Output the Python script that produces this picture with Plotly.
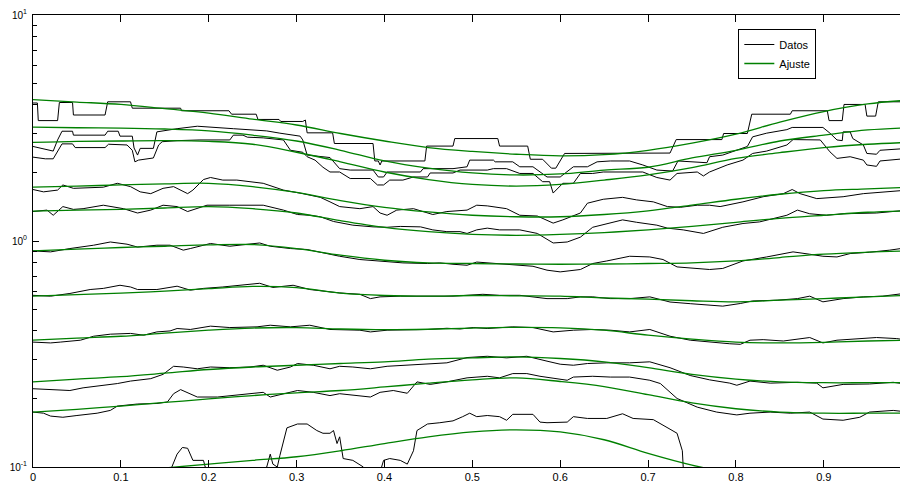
import plotly.graph_objects as go

# ---------------- data (x, value) ----------------
d1 = [(0.000,4.08),(0.005,4.08),(0.006,3.41),(0.028,3.41),(0.030,4.10),(0.045,4.10),(0.046,3.61),(0.082,3.61),
      (0.085,4.13),(0.111,4.13),(0.113,3.87),(0.168,3.87),(0.169,3.77),(0.223,3.77),(0.226,3.64),(0.254,3.64),
      (0.256,3.45),(0.280,3.45),(0.282,3.38),(0.307,3.38),(0.310,3.43),(0.312,3.01),(0.341,3.01),(0.343,2.70),
      (0.387,2.70),(0.389,2.26),(0.393,2.26),(0.395,2.17),(0.397,2.26),(0.446,2.26),(0.448,2.63),(0.478,2.63),
      (0.480,2.84),(0.529,2.84),(0.531,2.63),(0.563,2.63),(0.566,2.30),(0.580,2.30),(0.590,2.10),(0.595,2.10),
      (0.605,2.44),(0.725,2.45),(0.732,2.81),(0.784,2.81),(0.786,2.99),(0.813,2.99),(0.818,3.64),(0.862,3.64),
      (0.864,3.77),(0.904,3.77),(0.906,3.41),(0.921,3.41),(0.923,4.02),(0.947,4.02),(0.949,3.57),(0.959,3.57),
      (0.962,4.13),(0.996,4.13)]

d2 = [(0.000,2.62),(0.008,2.58),(0.023,2.50),(0.028,2.80),(0.033,3.06),(0.045,3.06),(0.046,2.94),(0.082,2.94),
      (0.085,3.06),(0.097,3.06),(0.099,2.91),(0.113,2.91),(0.115,2.58),(0.119,2.40),(0.122,2.57),(0.137,2.57),
      (0.141,3.04),(0.164,3.14),(0.187,3.22),(0.228,3.14),(0.266,3.07),(0.281,3.00),(0.304,2.91),(0.307,2.80),
      (0.312,2.40),(0.338,2.34),(0.349,2.09),(0.361,2.06),(0.387,2.06),(0.393,1.92),(0.399,1.92),(0.403,2.02),
      (0.441,2.02),(0.444,2.09),(0.478,2.09),(0.494,2.13),(0.497,2.28),(0.524,2.28),(0.526,2.24),(0.546,2.24),
      (0.554,2.13),(0.569,2.13),(0.585,1.92),(0.600,1.92),(0.603,1.96),(0.615,2.13),(0.631,2.13),(0.642,2.24),
      (0.657,2.26),(0.679,2.26),(0.694,2.17),(0.710,2.06),(0.728,2.04),(0.734,2.26),(0.767,2.22),(0.770,2.36),
      (0.785,2.40),(0.813,2.62),(0.819,2.89),(0.835,3.00),(0.858,3.11),(0.864,3.18),(0.899,3.18),(0.907,3.00),
      (0.915,2.80),(0.921,2.78),(0.922,3.04),(0.930,3.04),(0.933,2.84),(0.945,2.66),(0.949,2.44),(0.960,2.42),
      (0.964,2.52),(0.996,2.57)]

d3 = [(0.000,2.35),(0.014,2.31),(0.023,2.31),(0.029,2.52),(0.033,2.69),(0.045,2.69),(0.048,2.59),(0.082,2.59),
      (0.086,2.68),(0.107,2.66),(0.113,2.52),(0.116,2.24),(0.120,2.28),(0.137,2.33),(0.143,2.66),(0.147,2.75),
      (0.164,2.78),(0.190,2.80),(0.224,2.80),(0.228,2.94),(0.239,2.94),(0.244,2.88),(0.262,2.86),(0.285,2.80),
      (0.293,2.52),(0.307,2.47),(0.312,2.36),(0.321,2.28),(0.330,2.12),(0.338,2.02),(0.349,2.02),(0.361,1.89),
      (0.384,1.89),(0.392,1.77),(0.399,1.77),(0.406,1.86),(0.421,1.86),(0.433,1.92),(0.449,1.92),(0.452,2.00),
      (0.478,2.00),(0.486,2.06),(0.517,2.06),(0.524,2.09),(0.539,2.09),(0.554,1.99),(0.569,1.99),(0.580,1.83),
      (0.588,1.83),(0.592,1.63),(0.603,1.80),(0.615,1.80),(0.623,1.99),(0.637,1.99),(0.649,2.02),(0.694,2.02),
      (0.710,1.91),(0.725,1.86),(0.733,1.99),(0.756,2.02),(0.763,1.94),(0.770,2.02),(0.790,2.17),(0.808,2.28),
      (0.819,2.44),(0.835,2.50),(0.858,2.66),(0.865,2.81),(0.896,2.80),(0.907,2.48),(0.915,2.32),(0.930,2.36),
      (0.945,2.28),(0.949,2.17),(0.960,2.14),(0.964,2.26),(0.996,2.32)]

d4 = [(0.000,1.69),(0.012,1.65),(0.028,1.68),(0.034,1.77),(0.046,1.71),(0.080,1.73),(0.096,1.80),(0.111,1.74),
      (0.122,1.65),(0.134,1.62),(0.148,1.71),(0.160,1.74),(0.176,1.62),(0.182,1.68),(0.194,1.87),(0.202,1.91),
      (0.216,1.86),(0.232,1.86),(0.262,1.80),(0.285,1.68),(0.307,1.62),(0.327,1.56),(0.338,1.49),(0.349,1.42),
      (0.372,1.39),(0.387,1.42),(0.395,1.33),(0.403,1.30),(0.414,1.37),(0.433,1.39),(0.455,1.31),(0.471,1.35),
      (0.494,1.37),(0.505,1.44),(0.517,1.43),(0.539,1.39),(0.554,1.30),(0.574,1.29),(0.592,1.20),(0.603,1.24),
      (0.623,1.33),(0.631,1.47),(0.649,1.53),(0.671,1.56),(0.687,1.52),(0.706,1.49),(0.722,1.42),(0.737,1.41),
      (0.756,1.44),(0.770,1.44),(0.782,1.42),(0.808,1.49),(0.831,1.57),(0.854,1.62),(0.864,1.69),(0.873,1.62),
      (0.892,1.54),(0.922,1.57),(0.945,1.62),(0.996,1.68)]

d5 = [(0.000,1.35),(0.016,1.37),(0.023,1.30),(0.034,1.42),(0.046,1.38),(0.057,1.39),(0.080,1.44),(0.103,1.39),
      (0.119,1.33),(0.134,1.37),(0.148,1.44),(0.164,1.42),(0.176,1.35),(0.187,1.39),(0.198,1.44),(0.224,1.44),
      (0.262,1.44),(0.285,1.37),(0.301,1.31),(0.315,1.30),(0.327,1.28),(0.342,1.22),(0.364,1.175),(0.387,1.155),
      (0.403,1.15),(0.418,1.16),(0.441,1.155),(0.455,1.12),(0.471,1.10),(0.486,1.10),(0.494,1.08),(0.505,1.12),
      (0.517,1.14),(0.531,1.12),(0.554,1.12),(0.574,1.08),(0.592,0.98),(0.608,0.99),(0.623,1.04),(0.637,1.15),
      (0.653,1.19),(0.671,1.24),(0.687,1.21),(0.710,1.175),(0.722,1.14),(0.740,1.12),(0.763,1.08),(0.785,1.15),
      (0.808,1.195),(0.827,1.215),(0.858,1.30),(0.870,1.37),(0.884,1.32),(0.903,1.30),(0.922,1.32),(0.960,1.33),
      (0.996,1.37)]

d6 = [(0.000,0.904),(0.020,0.895),(0.042,0.926),(0.069,0.958),(0.088,0.990),(0.107,0.968),(0.119,0.940),
      (0.141,0.958),(0.156,0.958),(0.171,0.911),(0.179,0.926),(0.202,0.975),(0.224,0.948),(0.244,0.968),
      (0.258,0.980),(0.270,0.948),(0.293,0.926),(0.312,0.917),(0.338,0.874),(0.349,0.856),(0.372,0.828),
      (0.395,0.816),(0.421,0.800),(0.449,0.795),(0.463,0.800),(0.478,0.789),(0.494,0.781),(0.505,0.807),
      (0.524,0.795),(0.546,0.787),(0.569,0.773),(0.585,0.743),(0.600,0.730),(0.623,0.748),(0.637,0.795),
      (0.653,0.816),(0.679,0.856),(0.702,0.850),(0.717,0.828),(0.733,0.768),(0.751,0.756),(0.770,0.748),
      (0.785,0.756),(0.808,0.816),(0.835,0.850),(0.865,0.895),(0.884,0.874),(0.899,0.856),(0.915,0.850),
      (0.930,0.880),(0.952,0.892),(0.975,0.911),(0.996,0.936)]

d7 = [(0.000,0.575),(0.020,0.570),(0.042,0.586),(0.065,0.610),(0.080,0.617),(0.099,0.637),(0.111,0.626),
      (0.119,0.610),(0.141,0.610),(0.164,0.631),(0.179,0.606),(0.194,0.617),(0.216,0.626),(0.239,0.637),
      (0.258,0.650),(0.273,0.623),(0.296,0.637),(0.315,0.610),(0.338,0.595),(0.349,0.589),(0.372,0.581),
      (0.384,0.556),(0.395,0.566),(0.418,0.570),(0.478,0.570),(0.501,0.575),(0.512,0.581),(0.531,0.575),
      (0.554,0.575),(0.585,0.556),(0.608,0.556),(0.623,0.566),(0.637,0.566),(0.657,0.556),(0.679,0.556),
      (0.702,0.566),(0.725,0.537),(0.748,0.528),(0.770,0.520),(0.785,0.515),(0.805,0.529),(0.819,0.543),
      (0.847,0.547),(0.870,0.556),(0.884,0.570),(0.899,0.538),(0.922,0.556),(0.945,0.566),(0.967,0.570),
      (0.996,0.589)]

d8 = [(0.000,0.357),(0.020,0.354),(0.031,0.357),(0.054,0.364),(0.069,0.379),(0.088,0.387),(0.111,0.390),
      (0.126,0.383),(0.141,0.396),(0.156,0.400),(0.164,0.410),(0.179,0.406),(0.202,0.420),(0.224,0.414),
      (0.255,0.417),(0.270,0.424),(0.293,0.417),(0.315,0.424),(0.338,0.406),(0.349,0.406),(0.372,0.403),
      (0.384,0.396),(0.403,0.403),(0.449,0.406),(0.471,0.411),(0.486,0.408),(0.501,0.414),(0.517,0.410),
      (0.546,0.417),(0.569,0.414),(0.592,0.396),(0.615,0.403),(0.637,0.406),(0.657,0.403),(0.679,0.396),
      (0.702,0.406),(0.725,0.379),(0.748,0.364),(0.770,0.357),(0.793,0.351),(0.805,0.349),(0.816,0.364),
      (0.831,0.366),(0.854,0.361),(0.884,0.374),(0.899,0.354),(0.915,0.364),(0.938,0.370),(0.960,0.374),
      (0.983,0.370),(0.996,0.364)]

d9 = [(0.000,0.222),(0.020,0.220),(0.042,0.218),(0.057,0.224),(0.080,0.230),(0.096,0.234),(0.111,0.240),
      (0.134,0.246),(0.148,0.257),(0.160,0.279),(0.171,0.277),(0.187,0.272),(0.202,0.277),(0.224,0.275),
      (0.247,0.277),(0.262,0.282),(0.278,0.268),(0.293,0.277),(0.301,0.287),(0.319,0.282),(0.338,0.272),
      (0.349,0.279),(0.364,0.277),(0.384,0.272),(0.403,0.279),(0.426,0.282),(0.449,0.287),(0.471,0.289),
      (0.494,0.305),(0.517,0.309),(0.539,0.304),(0.562,0.309),(0.585,0.294),(0.600,0.285),(0.615,0.282),
      (0.631,0.287),(0.653,0.289),(0.679,0.289),(0.702,0.292),(0.725,0.275),(0.748,0.254),(0.770,0.243),
      (0.793,0.235),(0.801,0.230),(0.816,0.240),(0.839,0.235),(0.870,0.237),(0.892,0.235),(0.899,0.224),
      (0.922,0.232),(0.952,0.233),(0.979,0.237),(0.996,0.232)]

d10 = [(0.000,0.175),(0.012,0.173),(0.020,0.168),(0.034,0.166),(0.050,0.169),(0.073,0.173),(0.088,0.178),
       (0.096,0.186),(0.119,0.190),(0.141,0.191),(0.153,0.194),(0.160,0.211),(0.168,0.220),(0.179,0.211),
       (0.187,0.204),(0.210,0.204),(0.224,0.207),(0.239,0.209),(0.262,0.214),(0.270,0.204),(0.285,0.211),
       (0.301,0.218),(0.319,0.214),(0.338,0.207),(0.349,0.211),(0.372,0.207),(0.384,0.204),(0.395,0.214),
       (0.410,0.218),(0.426,0.212),(0.437,0.238),(0.452,0.232),(0.471,0.238),(0.494,0.248),(0.517,0.252),
       (0.531,0.248),(0.546,0.259),(0.562,0.259),(0.577,0.252),(0.608,0.242),(0.615,0.250),(0.637,0.252),
       (0.657,0.250),(0.679,0.250),(0.702,0.242),(0.714,0.234),(0.733,0.201),(0.756,0.184),(0.778,0.175),
       (0.801,0.170),(0.816,0.173),(0.839,0.175),(0.862,0.173),(0.884,0.175),(0.899,0.163),(0.922,0.161),
       (0.941,0.166),(0.952,0.175),(0.979,0.178),(0.996,0.175)]

d11 = [(0.000,0.085),(0.080,0.088),(0.150,0.092),(0.158,0.100),(0.164,0.114),(0.170,0.122),(0.176,0.121),
       (0.182,0.107),(0.194,0.107),(0.196,0.100),(0.202,0.095),(0.258,0.095),(0.266,0.100),(0.270,0.114),
       (0.273,0.103),(0.278,0.100),(0.281,0.1125),(0.289,0.149),(0.301,0.155),(0.312,0.155),(0.323,0.145),
       (0.330,0.141),(0.338,0.141),(0.342,0.145),(0.346,0.127),(0.349,0.136),(0.353,0.109),(0.364,0.107),
       (0.376,0.100),(0.381,0.095),(0.395,0.095),(0.399,0.107),(0.406,0.109),(0.418,0.107),(0.426,0.103),
       (0.433,0.118),(0.437,0.145),(0.449,0.155),(0.463,0.157),(0.478,0.160),(0.489,0.167),(0.497,0.173),
       (0.505,0.167),(0.517,0.169),(0.531,0.167),(0.539,0.161),(0.546,0.171),(0.569,0.171),(0.577,0.158),
       (0.585,0.157),(0.608,0.158),(0.615,0.167),(0.631,0.164),(0.653,0.164),(0.671,0.172),(0.683,0.164),
       (0.706,0.162),(0.714,0.156),(0.725,0.147),(0.733,0.141),(0.739,0.118),(0.740,0.100),(0.741,0.070),
       (0.996,0.070)]

fit_x = [0.00,0.05,0.10,0.15,0.20,0.25,0.30,0.35,0.40,0.45,0.50,0.55,0.60,0.65,0.70,0.75,0.80,0.85,0.90,0.95,0.996]
g1  = [4.22,4.12,4.02,3.85,3.68,3.46,3.26,2.99,2.77,2.59,2.49,2.42,2.38,2.41,2.52,2.71,2.97,3.36,3.74,4.04,4.20]
g2  = [3.19,3.17,3.16,3.13,3.07,2.94,2.77,2.52,2.26,2.10,2.00,1.96,1.98,2.06,2.12,2.33,2.52,2.77,2.94,3.10,3.17]
g3  = [2.73,2.76,2.77,2.78,2.76,2.68,2.47,2.24,2.02,1.87,1.78,1.75,1.78,1.86,1.96,2.11,2.32,2.46,2.59,2.68,2.73]
g4  = [1.73,1.75,1.77,1.79,1.80,1.74,1.64,1.51,1.41,1.345,1.30,1.28,1.28,1.31,1.36,1.44,1.53,1.61,1.67,1.70,1.73]
g5  = [1.355,1.37,1.38,1.40,1.42,1.39,1.33,1.23,1.15,1.10,1.07,1.06,1.07,1.09,1.12,1.16,1.21,1.26,1.30,1.34,1.36]
g6  = [0.904,0.920,0.936,0.948,0.961,0.965,0.926,0.865,0.822,0.800,0.795,0.791,0.789,0.791,0.795,0.800,0.816,0.845,0.874,0.892,0.904]
g7  = [0.570,0.579,0.588,0.600,0.615,0.630,0.622,0.588,0.574,0.570,0.574,0.572,0.570,0.560,0.553,0.544,0.538,0.547,0.556,0.566,0.575]
g8  = [0.364,0.372,0.379,0.391,0.403,0.412,0.414,0.408,0.405,0.407,0.412,0.415,0.413,0.403,0.383,0.368,0.357,0.354,0.356,0.361,0.364]
g9  = [0.238,0.245,0.251,0.260,0.270,0.277,0.282,0.287,0.292,0.300,0.304,0.307,0.302,0.292,0.275,0.257,0.245,0.238,0.236,0.236,0.236]
g10 = [0.175,0.180,0.186,0.193,0.200,0.207,0.213,0.218,0.226,0.235,0.243,0.248,0.239,0.227,0.209,0.192,0.181,0.175,0.173,0.173,0.173]
g11 = [0.088,0.091,0.095,0.099,0.103,0.107,0.111,0.118,0.127,0.136,0.143,0.146,0.143,0.132,0.115,0.102,0.093,0.087,0.084,0.082,0.081]

x_ticks = [0, 0.1, 0.2, 0.3, 0.4, 0.5, 0.6, 0.7, 0.8, 0.9]
x_tick_labels = ["0", "0.1", "0.2", "0.3", "0.4", "0.5", "0.6", "0.7", "0.8", "0.9"]
y_ticks = [0.1, 1, 10]
y_tick_labels = ["10<sup>-1</sup>", "10<sup>0</sup>", "10<sup>1</sup>"]
y_minor = [0.2, 0.3, 0.4, 0.5, 0.6, 0.7, 0.8, 0.9, 2, 3, 4, 5, 6, 7, 8, 9]

data_series = [d1, d2, d3, d4, d5, d6, d7, d8, d9, d10, d11]
fit_series = [g1, g2, g3, g4, g5, g6, g7, g8, g9, g10, g11]

GREEN = "#008000"
fig = go.Figure()
for i, d in enumerate(data_series):
    xs = [p[0] for p in d]
    ys = [p[1] for p in d]
    fig.add_trace(go.Scatter(x=xs, y=ys, mode="lines", name="Datos", legendgroup="datos",
                             showlegend=(i == 0), line=dict(color="black", width=1)))
for i, g in enumerate(fit_series):
    fig.add_trace(go.Scatter(x=fit_x, y=g, mode="lines", name="Ajuste", legendgroup="ajuste",
                             showlegend=(i == 0), line=dict(color=GREEN, width=1.3, shape="spline")))

axis_common = dict(showline=True, linecolor="black", linewidth=1, mirror="ticks", showgrid=False,
                   zeroline=False, ticks="inside", tickcolor="black", tickwidth=1, automargin=False)

# the page body has an 8px margin, so the figure is sized/offset to compensate
fig.update_layout(
    width=900, height=475,
    margin=dict(l=25, r=1, t=7, b=16, pad=0),
    paper_bgcolor="white", plot_bgcolor="white",
    font=dict(family="Liberation Sans, Arial, Helvetica, sans-serif", size=10, color="black"),
    showlegend=True,
    legend=dict(x=0.807, y=0.969, xanchor="left", yanchor="top", bgcolor="white",
                bordercolor="black", borderwidth=1, font=dict(size=11), tracegroupgap=0,
                itemwidth=30),
    xaxis=dict(range=[0, 0.9947], tickmode="array", tickvals=x_ticks, ticktext=x_tick_labels,
               ticklen=7, tickfont=dict(size=11), **axis_common),
    yaxis=dict(type="log", range=[-1, 1], tickmode="array", tickvals=y_ticks, ticktext=y_tick_labels,
               ticklen=6, ticklabelstandoff=3, tickfont=dict(size=10),
               minor=dict(tickmode="array", tickvals=y_minor, ticks="inside", ticklen=4,
                          tickcolor="black", showgrid=False),
               **axis_common),
)

fig.write_html("out.html")
